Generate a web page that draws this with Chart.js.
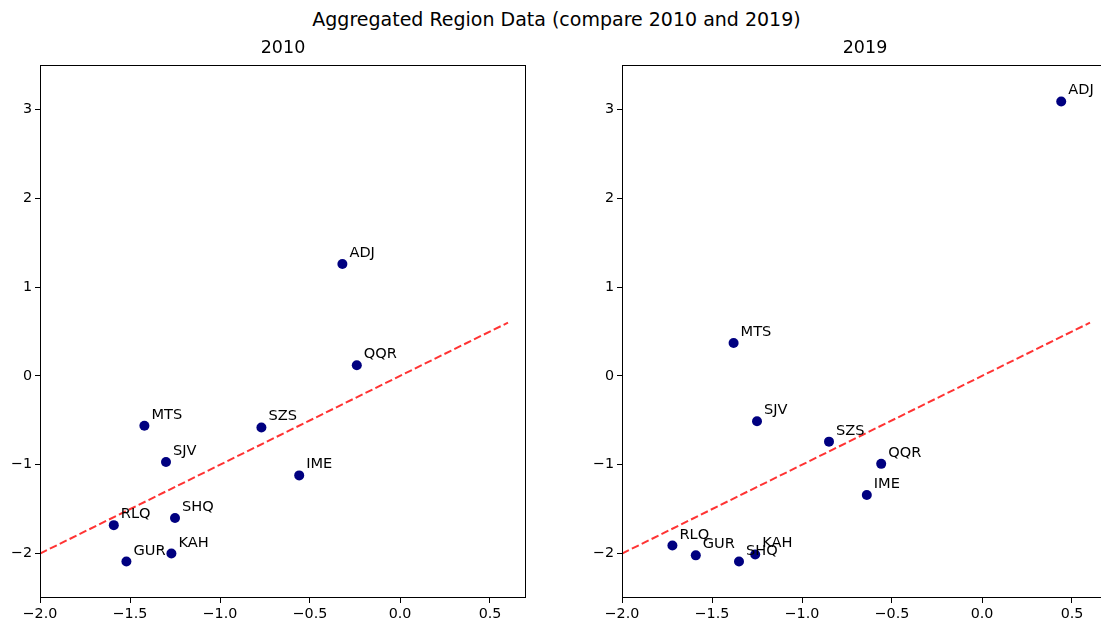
<!DOCTYPE html>
<html>
<head>
<meta charset="utf-8">
<script src="https://cdn.jsdelivr.net/npm/chart.js@4.4.1/dist/chart.umd.min.js"></script>
<style>
  html, body { margin: 0; padding: 0; background: #fff; }
  #fig { position: relative; width: 1101px; height: 628px; overflow: hidden; background: #fff;
         font-family: "DejaVu Sans", sans-serif; }
  #suptitle { position: absolute; left: 0; top: 8px; width: 1113px; text-align: center;
              font-size: 19px; line-height: 22px; color: #000; }
  canvas { position: absolute; top: 30px; }
</style>
</head>
<body>
<div id="fig">
  <div id="suptitle">Aggregated Region Data (compare 2010 and 2019)</div>
  <canvas id="c2010" width="566" height="598" style="left:0px"></canvas>
  <canvas id="c2019" width="566" height="598" style="left:582px"></canvas>
</div>
<script>
// Region codes, in the same order as the value arrays below
const regions = ['ADJ', 'QQR', 'SZS', 'IME', 'MTS', 'SJV', 'SHQ', 'RLQ', 'KAH', 'GUR'];

// 2010 values
const x2010 = [-0.32, -0.24, -0.77, -0.56, -1.42, -1.30, -1.25, -1.59, -1.27, -1.52];
const y2010 = [ 1.26,  0.12, -0.58, -1.12, -0.56, -0.97, -1.60, -1.68, -2.00, -2.09];

// 2019 values
const x2019 = [ 0.44, -0.56, -0.85, -0.64, -1.38, -1.25, -1.35, -1.72, -1.26, -1.59];
const y2019 = [ 3.09, -0.99, -0.74, -1.34,  0.37, -0.51, -2.09, -1.91, -2.01, -2.02];

// Reference line y = x
const refLineX = [-2.0, 0.6];
const refLineY = [-2.0, 0.6];

// Axis ranges and tick labels
const xRange = [-2.0, 0.7];
const yRange = [-2.5, 3.5];
const xTicks = [-2.0, -1.5, -1.0, -0.5, 0.0, 0.5];
const yTicks = [-2, -1, 0, 1, 2, 3];

const FONT = '"DejaVu Sans", sans-serif';
const minus = s => s.replace('-', '\u2212');

// Full box around the plotting area
const framePlugin = {
  id: 'frame',
  afterDatasetsDraw(chart) {
    const { ctx, chartArea: a } = chart;
    ctx.save();
    ctx.strokeStyle = '#000';
    ctx.lineWidth = 1;
    const L = Math.round(a.left), T = Math.round(a.top), R = Math.round(a.right), B = Math.round(a.bottom);
    ctx.strokeRect(L + 0.5, T + 0.5, R - L - 1, B - T - 1);
    ctx.restore();
  }
};

// Region code written beside each point
const pointLabelPlugin = {
  id: 'pointLabels',
  afterDatasetsDraw(chart, args, opts) {
    const { ctx } = chart;
    const meta = chart.getDatasetMeta(0);
    ctx.save();
    ctx.font = '14.6px ' + FONT;
    ctx.fillStyle = '#000';
    ctx.textAlign = 'left';
    ctx.textBaseline = 'alphabetic';
    meta.data.forEach((el, i) => {
      ctx.fillText(opts.names[i], el.x + 7, el.y - 7);
    });
    ctx.restore();
  }
};

function makePanel(canvasId, title, xs, ys) {
  const pts = xs.map((x, i) => ({ x: x, y: ys[i] }));
  const line = refLineX.map((x, i) => ({ x: x, y: refLineY[i] }));
  return new Chart(document.getElementById(canvasId), {
    type: 'scatter',
    data: {
      datasets: [
        {
          data: pts,
          backgroundColor: '#000080',
          borderWidth: 0,
          pointRadius: 5,
          pointHoverRadius: 5,
          order: 2
        },
        {
          data: line,
          showLine: true,
          borderColor: 'rgba(255,0,0,0.8)',
          borderWidth: 2,
          borderDash: [7.7, 3.3],
          pointRadius: 0,
          pointHoverRadius: 0,
          fill: false,
          order: 1
        }
      ]
    },
    options: {
      responsive: false,
      devicePixelRatio: 1,
      animation: false,
      events: [],
      layout: { padding: 0 },
      plugins: {
        legend: { display: false },
        tooltip: { enabled: false },
        title: {
          display: true,
          text: title,
          color: '#000',
          font: { family: FONT, size: 17.5, weight: 'normal', lineHeight: 1.2 },
          padding: { top: 7.5, bottom: 6.5 }
        },
        pointLabels: { names: regions }
      },
      scales: {
        x: {
          type: 'linear',
          position: 'bottom',
          min: xRange[0],
          max: xRange[1],
          afterBuildTicks: s => { s.ticks = xTicks.map(v => ({ value: v })); },
          afterFit: s => { s.height = 30; },
          border: { display: false },
          grid: { drawOnChartArea: false, drawTicks: true, tickLength: 5, color: '#000', lineWidth: 1 },
          ticks: {
            autoSkip: false, maxRotation: 0, padding: 3, color: '#000',
            font: { family: FONT, size: 14.3 },
            callback: v => minus(Number(v).toFixed(1))
          }
        },
        y: {
          type: 'linear',
          position: 'left',
          min: yRange[0],
          max: yRange[1],
          afterBuildTicks: s => { s.ticks = yTicks.map(v => ({ value: v })); },
          afterFit: s => { s.width = 40; },
          border: { display: false },
          grid: { drawOnChartArea: false, drawTicks: true, tickLength: 5, color: '#000', lineWidth: 1 },
          ticks: {
            autoSkip: false, padding: 3, color: '#000',
            font: { family: FONT, size: 14.3 },
            callback: v => minus(String(v))
          }
        },
        yPad: {
          type: 'linear',
          position: 'right',
          display: true,
          min: 0,
          max: 1,
          afterFit: s => { s.width = 40; },
          border: { display: false },
          grid: { display: false, drawTicks: false },
          ticks: { display: false }
        }
      }
    },
    plugins: [framePlugin, pointLabelPlugin]
  });
}

makePanel('c2010', '2010', x2010, y2010);
makePanel('c2019', '2019', x2019, y2019);
</script>
</body>
</html>
